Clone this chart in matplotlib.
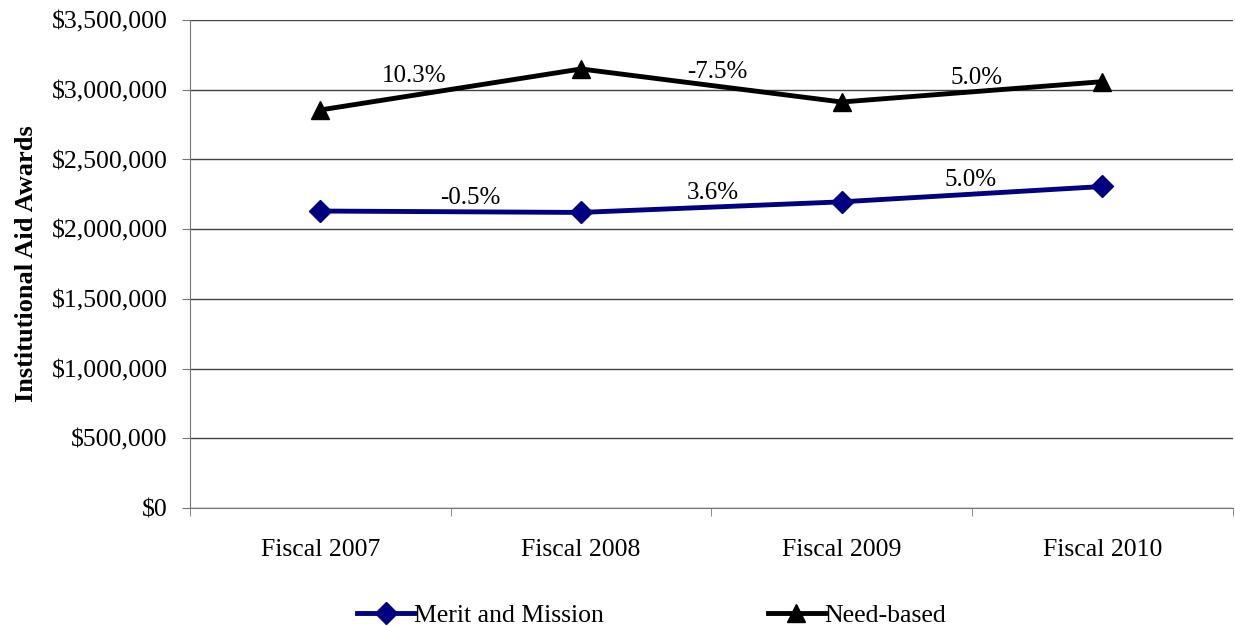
import matplotlib.pyplot as plt
from matplotlib.ticker import FuncFormatter, FixedLocator

plt.rcParams['font.family'] = ['Liberation Serif', 'DejaVu Serif']

years = ['Fiscal 2007', 'Fiscal 2008', 'Fiscal 2009', 'Fiscal 2010']
merit = [2130000, 2120000, 2196000, 2306000]
need = [2855000, 3149000, 2912000, 3058000]

fig = plt.figure(figsize=(12.35, 6.26), dpi=100)
ax = fig.add_axes([0.1538, 0.1885, 0.8444, 0.7795])

x = list(range(len(years)))
ax.plot(x, merit, color='#000080', lw=3.5, marker='D', ms=11, label='Merit and Mission')
ax.plot(x, need, color='black', lw=3.5, marker='^', ms=13, label='Need-based')

# year-over-year change labels above each segment
def pct_labels(vals, dxs, dy):
    for i in range(len(vals) - 1):
        ch = (vals[i + 1] - vals[i]) / vals[i] * 100
        ax.annotate(f'{ch:.1f}%', xy=(i + 0.5, (vals[i] + vals[i + 1]) / 2),
                    xytext=(dxs[i], dy), textcoords='offset points',
                    ha='center', va='center', fontsize=18)

pct_labels(need, [-26, 4, 3], 10)
pct_labels(merit, [14, 1, -1], 10)

ax.set_xlim(-0.5, 3.5)
ax.set_ylim(0, 3500000)
ax.set_yticks(range(0, 3500001, 500000))
ax.yaxis.set_major_formatter(FuncFormatter(lambda v, p: f'${v:,.0f}'))
ax.grid(axis='y', color='#444444', lw=1)
ax.set_axisbelow(True)

ax.set_xticks(x)
ax.set_xticklabels(years)
ax.tick_params(axis='x', which='major', length=0, pad=22)
ax.xaxis.set_minor_locator(FixedLocator([-0.5, 0.5, 1.5, 2.5, 3.5]))
ax.tick_params(axis='x', which='minor', length=6, color='#777777')
ax.tick_params(axis='y', length=6, color='#777777', pad=10)
ax.tick_params(labelsize=18.5)

for s in ['top', 'right']:
    ax.spines[s].set_visible(False)
for s in ['left', 'bottom']:
    ax.spines[s].set_color('#777777')

ax.set_ylabel('Institutional Aid Awards', fontsize=19, fontweight='bold', labelpad=10)

ax.legend(loc='center', bbox_to_anchor=(0.443, -0.22), ncol=2, frameon=False,
          fontsize=18.5, handlelength=2.2, handletextpad=0.0, columnspacing=6.4)

fig.savefig('out.png', dpi=100)
